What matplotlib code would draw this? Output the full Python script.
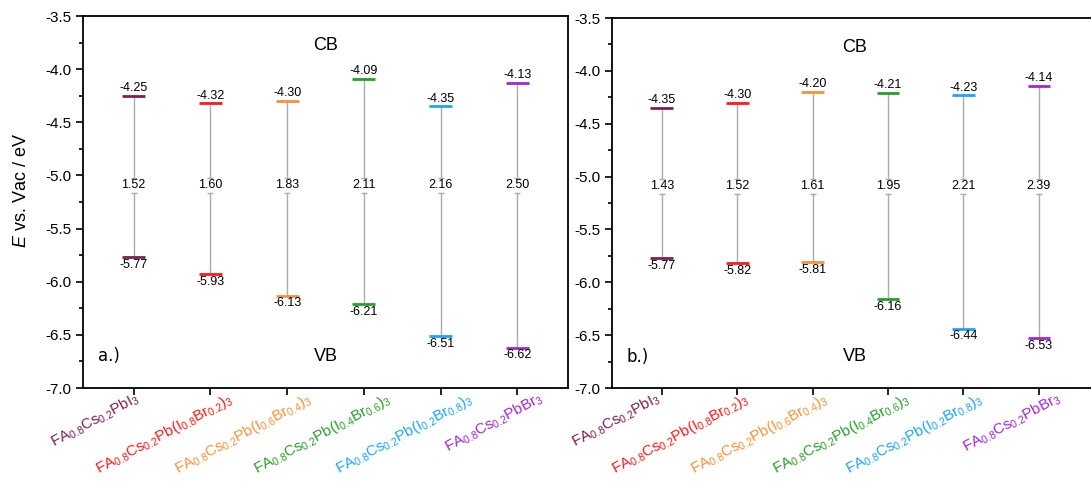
import matplotlib
matplotlib.use("Agg")
import matplotlib.pyplot as plt
import matplotlib.transforms as mtransforms
from matplotlib.ticker import MultipleLocator

plt.rcParams['font.family'] = ['Liberation Sans', 'DejaVu Sans']
plt.rcParams['mathtext.fontset'] = 'custom'
plt.rcParams['mathtext.rm'] = 'Liberation Sans'
plt.rcParams['mathtext.it'] = 'Liberation Sans:italic'

compositions = [
    r'FA$_{0.8}$Cs$_{0.2}$PbI$_3$',
    r'FA$_{0.8}$Cs$_{0.2}$Pb(I$_{0.8}$Br$_{0.2}$)$_3$',
    r'FA$_{0.8}$Cs$_{0.2}$Pb(I$_{0.6}$Br$_{0.4}$)$_3$',
    r'FA$_{0.8}$Cs$_{0.2}$Pb(I$_{0.4}$Br$_{0.6}$)$_3$',
    r'FA$_{0.8}$Cs$_{0.2}$Pb(I$_{0.2}$Br$_{0.8}$)$_3$',
    r'FA$_{0.8}$Cs$_{0.2}$PbBr$_3$',
]
colors = ['#7d1f50', '#ff1a1a', '#f7913d', '#2a9d2a', '#1ea4ff', '#a326d6']

# panel a
cb_a = [-4.25, -4.32, -4.30, -4.09, -4.35, -4.13]
vb_a = [-5.77, -5.93, -6.13, -6.21, -6.51, -6.62]
gap_a = [1.52, 1.60, 1.83, 2.11, 2.16, 2.50]

# panel b
cb_b = [-4.35, -4.30, -4.20, -4.21, -4.23, -4.14]
vb_b = [-5.77, -5.82, -5.81, -6.16, -6.44, -6.53]
gap_b = [1.43, 1.52, 1.61, 1.95, 2.21, 2.39]

# break in the gray connector where the gap value sits
gap_top, gap_bot, gap_txt = -5.02, -5.165, -5.09

# horizontal nudge (pixels) of each rotated composition label
shift_a = [1, 17, 20, 22, 27, 20]
shift_b = [-7, 6, 10, 17, 14, 17]

fig = plt.figure(figsize=(10.91, 4.88), dpi=100)
ax1 = fig.add_axes([83 / 1091, 100 / 488, 485 / 1091, 372 / 488])
ax2 = fig.add_axes([612 / 1091, 100 / 488, 485 / 1091, 370 / 488])


def panel(ax, cb, vb, gap, tag, x_cb, shifts, xmax):
    xs = range(1, len(cb) + 1)
    for x, c, v, g, col in zip(xs, cb, vb, gap, colors):
        ax.plot([x, x], [c, gap_top], color='#ababab', lw=1, zorder=1)
        ax.plot([x, x], [gap_bot, v], color='#ababab', lw=1, zorder=1)
        ax.plot([x, x], [gap_top, gap_bot], ls='none', marker='_',
                ms=4, mew=1, color='#ababab')
        ax.hlines([c, v], x - 0.15, x + 0.15, colors=col, lw=2, zorder=2)
        ax.text(x, c + 0.015, f'{c:.2f}', ha='center', va='bottom', fontsize=9)
        ax.text(x, v - 0.015, f'{v:.2f}', ha='center', va='top', fontsize=9)
        ax.text(x, gap_txt, f'{g:.2f}', ha='center', va='center', fontsize=9)

    ax.set_xlim(0.34, xmax)
    ax.set_ylim(-7.0, -3.5)
    ax.yaxis.set_major_locator(MultipleLocator(0.5))
    ax.yaxis.set_minor_locator(MultipleLocator(0.25))
    ax.yaxis.set_major_formatter(lambda v, p: f'{v:.1f}')
    ax.tick_params(axis='y', which='major', direction='out', length=5,
                   width=1.2, labelsize=11, right=False)
    ax.tick_params(axis='y', which='minor', direction='out', length=3, width=1.2)
    ax.tick_params(axis='x', direction='out', length=5, width=1.2, top=False,
                   pad=1.5)
    for sp in ax.spines.values():
        sp.set_linewidth(1.3)

    ax.set_xticks(list(xs))
    ax.set_xticklabels(compositions, fontsize=10.8)
    for lab, col, dx in zip(ax.get_xticklabels(), colors, shifts):
        lab.set_color(col)
        lab.set_rotation(28)
        lab.set_ha('right')
        lab.set_va('top')
        lab.set_rotation_mode('anchor')
        off = mtransforms.ScaledTranslation(dx / 100, 0.07, fig.dpi_scale_trans)
        lab.set_transform(lab.get_transform() + off)

    ax.text(x_cb, 0.92, 'CB', transform=ax.transAxes, ha='center',
            va='center', fontsize=13)
    ax.text(x_cb, 0.085, 'VB', transform=ax.transAxes, ha='center',
            va='center', fontsize=13)
    ax.text(0.03, 0.085, tag, transform=ax.transAxes, ha='left',
            va='center', fontsize=12, family='DejaVu Sans')


panel(ax1, cb_a, vb_a, gap_a, 'a.)', 0.5, shift_a, 6.66)
panel(ax2, cb_b, vb_b, gap_b, 'b.)', 0.5, shift_b, 6.77)

ax1.set_ylabel(r'$E$ vs. Vac / eV', fontsize=13)
ax1.yaxis.set_label_coords(-0.11, 0.53)

fig.savefig('out.png', dpi=100)
